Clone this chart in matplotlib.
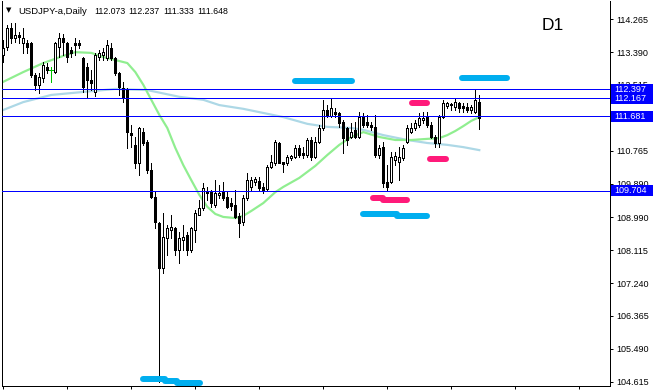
import matplotlib
matplotlib.use("Agg")
import matplotlib.pyplot as plt
import matplotlib.transforms as mtransforms
import numpy as np

# ---------------- data (USDJPY-a, Daily) ----------------
opens = [113.31, 113.53, 114.03, 113.77, 113.85, 113.63, 113.63, 113.63, 112.78, 112.52,
         112.70, 112.99, 112.91, 112.86, 113.53, 113.77, 113.63, 113.45, 113.63, 113.63,
         113.23, 112.99, 112.65, 112.33, 113.26, 113.31, 113.23, 113.50, 113.23, 112.83,
         112.44, 112.38, 111.24, 110.92, 110.44, 111.26, 111.00, 110.25, 109.53, 108.84,
         107.64, 108.44, 108.65, 108.71, 108.12, 108.39, 108.52, 108.12, 108.65, 109.05,
         109.24, 109.69, 109.66, 109.32, 109.59, 109.66, 109.53, 109.37, 109.32, 109.03,
         108.87, 109.51, 109.80, 109.93, 109.96, 109.80, 109.74, 110.33, 110.44, 110.97,
         110.46, 110.44, 110.57, 110.60, 110.84, 110.70, 110.65, 111.05, 110.60, 111.00,
         111.37, 111.85, 111.69, 111.80, 111.77, 111.53, 111.37, 111.13, 111.32, 111.13,
         111.66, 111.53, 111.45, 111.40, 110.65, 110.86, 109.93, 109.93, 110.52, 110.46,
         110.57, 111.00, 111.26, 111.37, 111.45, 111.58, 111.66, 111.45, 111.13, 110.97,
         111.66, 111.96, 111.98, 111.93, 112.04, 111.96, 111.93, 111.85, 111.80, 112.073]
highs = [113.71, 114.11, 114.17, 114.17, 113.93, 114.03, 113.71, 113.66, 112.83, 112.83,
         113.13, 113.10, 112.99, 113.66, 113.90, 113.87, 113.66, 113.53, 113.77, 113.71,
         113.26, 113.10, 112.91, 113.37, 113.45, 113.50, 113.71, 113.63, 113.26, 112.86,
         112.60, 112.44, 111.45, 111.13, 111.40, 111.37, 111.05, 110.44, 109.66, 108.87,
         109.11, 108.79, 109.05, 108.73, 108.60, 108.79, 108.60, 108.73, 109.19, 109.45,
         109.90, 109.80, 109.72, 109.98, 109.85, 109.93, 109.66, 109.51, 109.72, 109.11,
         109.59, 110.17, 110.06, 110.06, 110.06, 109.90, 110.38, 110.65, 111.05, 111.00,
         110.46, 110.65, 110.65, 110.92, 110.92, 110.86, 111.10, 111.13, 111.13, 111.45,
         112.12, 111.98, 112.17, 111.90, 111.80, 111.58, 111.40, 111.50, 111.53, 111.80,
         111.77, 111.72, 111.53, 111.72, 110.92, 111.00, 110.38, 110.73, 110.73, 110.86,
         110.92, 111.45, 111.50, 111.58, 111.77, 111.80, 111.80, 111.53, 111.18, 111.72,
         112.12, 112.06, 112.04, 112.17, 112.06, 112.04, 112.04, 111.98, 112.38, 112.237]
lows = [113.13, 113.45, 113.63, 113.66, 113.63, 113.37, 113.37, 112.73, 112.38, 112.30,
        112.60, 112.83, 112.60, 112.83, 113.26, 113.31, 113.13, 113.26, 113.31, 113.50,
        112.33, 112.20, 112.38, 112.22, 113.18, 113.18, 113.18, 113.18, 112.78, 112.25,
        112.06, 110.84, 110.86, 110.30, 110.12, 110.92, 110.17, 109.50, 108.71, 104.60,
        107.51, 107.99, 108.44, 107.99, 107.77, 108.12, 107.99, 108.07, 108.33, 109.05,
        109.19, 109.45, 109.27, 109.27, 109.51, 109.45, 109.24, 109.19, 108.97, 108.47,
        108.79, 109.45, 109.72, 109.85, 109.72, 109.64, 109.72, 110.30, 110.38, 110.44,
        110.20, 110.38, 110.52, 110.57, 110.60, 110.57, 110.60, 110.52, 110.57, 110.97,
        111.32, 111.66, 111.66, 111.66, 111.40, 110.70, 110.92, 111.10, 111.10, 111.10,
        111.40, 111.40, 111.32, 110.60, 110.57, 109.80, 109.72, 109.90, 110.38, 109.98,
        110.52, 110.97, 111.24, 111.32, 111.40, 111.50, 111.40, 111.10, 110.86, 110.86,
        111.64, 111.90, 111.85, 111.85, 111.80, 111.80, 111.80, 111.77, 111.77, 111.333]
closes = [113.50, 114.03, 113.77, 113.85, 113.79, 113.77, 113.53, 112.78, 112.52, 112.73,
          113.05, 112.91, 112.91, 113.63, 113.77, 113.66, 113.26, 113.37, 113.58, 113.58,
          112.46, 112.65, 112.57, 113.31, 113.37, 113.39, 113.58, 113.23, 112.83, 112.46,
          112.17, 111.26, 111.18, 110.44, 111.37, 110.97, 110.25, 109.53, 108.87, 107.64,
          108.47, 108.71, 108.73, 108.12, 108.44, 108.47, 108.12, 108.71, 109.11, 109.24,
          109.77, 109.64, 109.37, 109.64, 109.64, 109.51, 109.27, 109.29, 109.00, 108.84,
          109.51, 109.98, 109.98, 110.01, 109.77, 109.69, 110.33, 110.46, 111.00, 110.44,
          110.41, 110.60, 110.62, 110.84, 110.65, 110.65, 111.05, 110.60, 111.00, 111.37,
          111.85, 111.69, 111.90, 111.74, 111.50, 111.10, 111.05, 111.26, 111.13, 111.66,
          111.45, 111.45, 111.40, 110.65, 110.84, 109.90, 109.80, 110.60, 110.62, 110.60,
          110.84, 111.37, 111.37, 111.50, 111.64, 111.64, 111.45, 111.13, 110.97, 111.66,
          112.04, 112.04, 112.01, 112.06, 111.90, 111.90, 111.85, 111.93, 112.12, 111.648]

# moving averages (bar index, price)
ma_fast_bar = [0, 5, 10, 15, 18, 22, 25, 28, 31, 33, 35, 37, 39, 41, 43, 45, 47, 49, 51, 53,
               55, 58, 60, 62, 65, 68, 70, 74, 78, 81, 84, 87, 90, 94, 98, 102, 106, 109,
               111, 113, 115, 117, 119]
ma_fast_val = [112.60, 112.86, 113.10, 113.29, 113.39, 113.37, 113.26, 113.18, 113.10, 112.86,
               112.52, 112.12, 111.72, 111.37, 110.84, 110.38, 109.98, 109.59, 109.27, 109.08,
               109.00, 108.97, 109.03, 109.16, 109.37, 109.66, 109.80, 110.04, 110.36, 110.65,
               110.92, 111.13, 111.26, 111.13, 111.05, 111.05, 111.08, 111.10, 111.18, 111.29,
               111.42, 111.56, 111.66]
ma_slow_bar = [0, 5, 12, 20, 28, 36, 44, 50, 54, 60, 65, 70, 76, 81, 87, 90, 95, 101, 106,
               111, 115, 119]
ma_slow_val = [111.85, 112.06, 112.25, 112.33, 112.41, 112.38, 112.20, 112.12, 111.98, 111.88,
               111.77, 111.66, 111.48, 111.40, 111.37, 111.32, 111.18, 111.05, 110.97, 110.92,
               110.86, 110.78]

# horizontal levels
levels = [112.397, 112.167, 111.681, 109.704]

# price scale labels
price_ticks = [114.265, 113.390, 112.515, 111.640, 110.765, 109.890, 108.990, 108.115,
               107.240, 106.365, 105.490, 104.615]

# hand-drawn highlight marks: (start bar, end bar, price)
marks_blue = [(72.9, 87.2, 112.62), (114.7, 125.9, 112.70),
              (90.0, 98.4, 109.08), (98.4, 105.9, 109.03),
              (34.9, 40.4, 104.68), (40.4, 43.4, 104.63), (43.4, 49.2, 104.58)]
marks_pink = [(102.2, 105.9, 112.04), (106.7, 110.7, 110.54),
              (92.4, 94.9, 109.51), (94.9, 100.9, 109.45)]

header_symbol = "USDJPY-a,Daily"
header_ohlc = ["112.073", "112.237", "111.333", "111.648"]
timeframe = "D1"

# ---------------- layout ----------------
W, H = 653, 390
fig = plt.figure(figsize=(W / 100, H / 100), dpi=100)
fig.patch.set_facecolor("white")

L, R, T, B = 1.5, 609.5, 0.5, 385.5  # plot area in pixels
ax = fig.add_axes([L / W, 1 - B / H, (R - L) / W, (B - T) / H])

# pixel <-> value relations of the price scale (from the label positions)
PX_PER_UNIT = 37.54
REF_PRICE, REF_Y = 114.265, 19.3
def price_at(ypix):
    return REF_PRICE - (ypix - REF_Y) / PX_PER_UNIT
BAR_PX, BAR0_X = 4.0, 3.3
def bar_at(xpix):
    return (xpix - BAR0_X) / BAR_PX

ax.set_ylim(price_at(B), price_at(T))
ax.set_xlim(bar_at(L), bar_at(R))
ax.set_facecolor("white")

px = 0.72  # 1 pixel in points

# moving averages
ax.plot(ma_slow_bar, ma_slow_val, color="#ADD8E6", lw=2.2 * px, zorder=2,
        solid_joinstyle="round")
ax.plot(ma_fast_bar, ma_fast_val, color="#90EE90", lw=2.2 * px, zorder=2,
        solid_joinstyle="round")

# candles
o = np.array(opens); h = np.array(highs); l = np.array(lows); c = np.array(closes)
x = np.arange(len(o))
min_h = 1.0 / PX_PER_UNIT
doji = np.isclose(o, c, atol=1e-6)
wick_col = np.where(doji, "#00C000", "black")
ax.vlines(x, l, h, colors=list(wick_col), lw=px, zorder=3, antialiased=False)
for i in range(len(o)):
    if doji[i]:
        ax.hlines(o[i], i - 0.5, i + 0.5, colors="#00C000", lw=px, zorder=4,
                  antialiased=False)
        continue
    bottom = min(o[i], c[i])
    height = max(abs(c[i] - o[i]), min_h)
    fc = "white" if c[i] > o[i] else "black"
    ax.bar(i, height, bottom=bottom, width=0.5, facecolor=fc, edgecolor="black",
           linewidth=px, zorder=4, antialiased=False)

# horizontal levels
for lv in levels:
    ax.axhline(lv, color="#0000FF", lw=px, zorder=5, antialiased=False)

# highlight marks
for (a, b_, p) in marks_blue:
    ax.plot([a, b_], [p, p], color="#00AEEF", lw=6 * px, solid_capstyle="round",
            zorder=6, clip_on=False)
for (a, b_, p) in marks_pink:
    ax.plot([a, b_], [p, p], color="#FF1A7A", lw=6 * px, solid_capstyle="round",
            zorder=6, clip_on=False)

# axes frame / ticks
ax.spines["top"].set_visible(False)
for s in ["left", "right", "bottom"]:
    ax.spines[s].set_linewidth(px)
    ax.spines[s].set_color("black")
ax.set_xticks(np.arange(0, 152, 16))
ax.tick_params(axis="x", direction="out", length=3 * px, width=px, labelbottom=False,
               color="black")
ax.yaxis.tick_right()
ax.set_yticks(price_ticks)
ax.set_yticklabels([f"{v:.3f}" for v in price_ticks])
ax.tick_params(axis="y", direction="out", length=3 * px, width=px, pad=2.5,
               labelsize=6.5, colors="black")
for lab in ax.get_yticklabels():
    lab.set_fontfamily("Liberation Sans")

# overlay in pixel coordinates for labels
ov = fig.add_axes([0, 0, 1, 1], zorder=10)
ov.set_xlim(0, W); ov.set_ylim(H, 0); ov.axis("off")
tr = mtransforms.blended_transform_factory(ov.transData, ax.transData)
for lv in levels:
    hh = 11 / PX_PER_UNIT
    ov.add_patch(plt.Rectangle((611, lv - hh / 2), 42, hh, transform=tr,
                               facecolor="#0000FF", edgecolor="none", zorder=11))
    ov.text(614.5, lv, f"{lv:.3f}", transform=tr, color="white", fontsize=6.5,
            family="Liberation Sans", va="center", ha="left", zorder=12)

# header
ov.text(6, 10.5, "\u25BC", fontsize=5, family="DejaVu Sans", va="center", ha="left",
        color="black")
ov.text(18, 11, header_symbol, fontsize=6.8, family="Liberation Sans", va="center",
        ha="left", color="black")
for xp, s in zip([94, 128.5, 163, 197.5], header_ohlc):
    ov.text(xp, 11, s, fontsize=6.3, family="Liberation Sans", va="center", ha="left",
            color="black")
ov.text(553, 25, timeframe, fontsize=12.5, family="Liberation Sans", va="center",
        ha="center", color="black")

fig.savefig("out.png", dpi=100, facecolor="white")
